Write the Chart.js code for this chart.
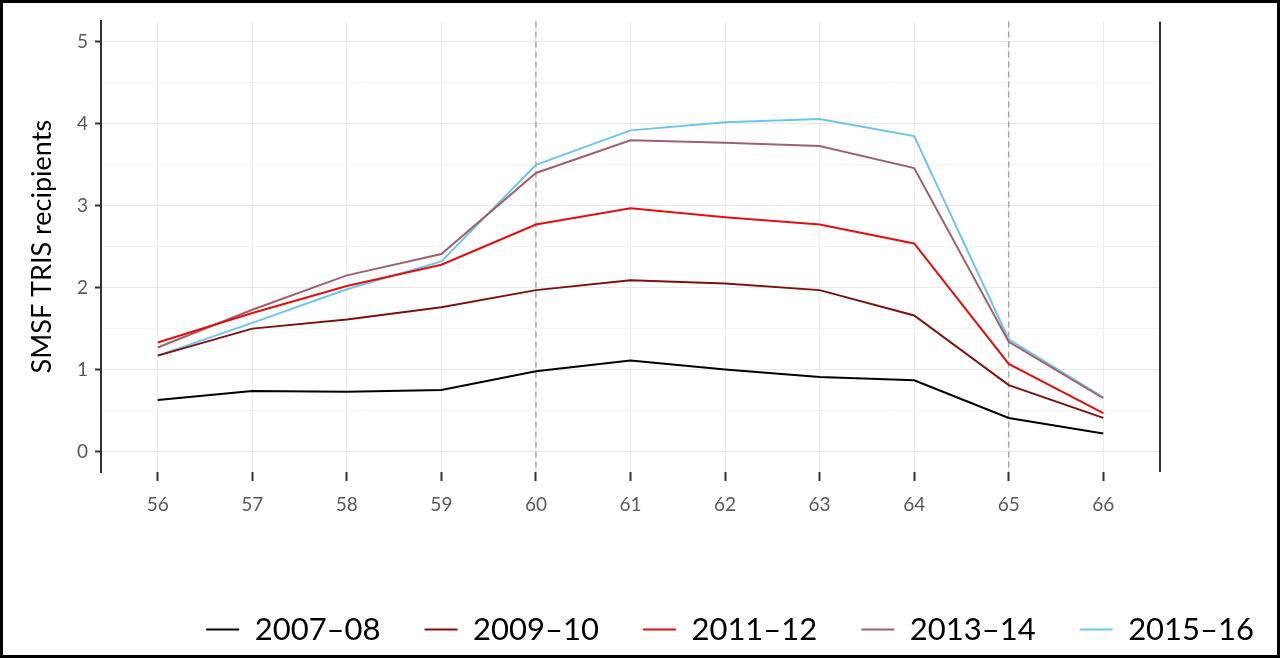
<!DOCTYPE html>
<html>
<head>
<meta charset="utf-8">
<script src="https://cdn.jsdelivr.net/npm/chart.js@4.4.1/dist/chart.umd.min.js"></script>
<style>
  html, body { margin: 0; padding: 0; background: #fff; }
  #wrap { width: 1280px; height: 658px; box-sizing: border-box; border: 3px solid #000; }
  #canvas { display: block; }
</style>
</head>
<body>
<div id="wrap"><canvas id="canvas" width="1274" height="652"></canvas></div>
<script>
// ages on the x axis
var ages = [56, 57, 58, 59, 60, 61, 62, 63, 64, 65, 66];
var yTicks = [0, 0.5, 1, 1.5, 2, 2.5, 3, 3.5, 4, 4.5, 5];
var markerAges = [60, 65];

var labels = ["2007–08", "2009–10", "2011–12", "2013–14", "2015–16"];
var colors = ["#000000", "#7d1111", "#e01010", "#a0616f", "#6ec5ec"];

var y0708 = [0.63, 0.74, 0.73, 0.75, 0.98, 1.11, 1.00, 0.91, 0.87, 0.41, 0.22];
var y0910 = [1.17, 1.50, 1.61, 1.76, 1.97, 2.09, 2.05, 1.97, 1.66, 0.81, 0.41];
var y1112 = [1.33, 1.69, 2.02, 2.28, 2.77, 2.97, 2.86, 2.77, 2.54, 1.07, 0.47];
var y1314 = [1.27, 1.73, 2.15, 2.41, 3.40, 3.80, 3.77, 3.73, 3.46, 1.34, 0.65];
var y1516 = [1.17, 1.57, 1.98, 2.32, 3.50, 3.92, 4.02, 4.06, 3.85, 1.37, 0.66];

var series = [y0708, y0910, y1112, y1314, y1516];

var FONT = "Lato, 'Open Sans', sans-serif";

var datasets = [];
for (var i = 0; i < series.length; i++) {
  datasets.push({
    label: labels[i],
    data: ages.map(function (a, j) { return { x: a, y: series[i][j] }; }),
    borderColor: colors[i],
    backgroundColor: colors[i],
    borderWidth: 2,
    pointRadius: 0,
    tension: 0
  });
}

// dashed markers at 60 and 65, plus right hand frame line
var extras = {
  id: "extras",
  beforeDatasetsDraw: function (chart) {
    var ctx = chart.ctx, a = chart.chartArea, xs = chart.scales.x;
    ctx.save();
    ctx.strokeStyle = "#a8a8a8";
    ctx.lineWidth = 1.5;
    ctx.setLineDash([6, 4]);
    markerAges.forEach(function (m) {
      var px = xs.getPixelForValue(m);
      ctx.beginPath();
      ctx.moveTo(px, a.top);
      ctx.lineTo(px, a.bottom);
      ctx.stroke();
    });
    ctx.restore();
  },
  afterDraw: function (chart) {
    var ctx = chart.ctx, a = chart.chartArea;
    ctx.save();
    ctx.strokeStyle = "#333";
    ctx.lineWidth = 2;
    ctx.beginPath();
    ctx.moveTo(a.right, a.top);
    ctx.lineTo(a.right, a.bottom);
    ctx.stroke();
    ctx.restore();
  }
};

function isWhole(v) { return Math.abs(v - Math.round(v)) < 1e-6; }

var ctx = document.getElementById("canvas").getContext("2d");
var chart = new Chart(ctx, {
  type: "line",
  data: { datasets: datasets },
  plugins: [extras],
  options: {
    responsive: false,
    animation: false,
    layout: { padding: { top: 14, right: -21, left: 0, bottom: 0 } },
    plugins: {
      tooltip: { enabled: false },
      legend: {
        position: "bottom",
        align: "end",
        labels: {
          usePointStyle: true,
          pointStyle: "line",
          pointStyleWidth: 33,
          boxHeight: 26,
          padding: 44,
          color: "#000",
          font: { family: FONT, size: 31 }
        }
      }
    },
    scales: {
      x: {
        type: "linear",
        min: 55.4,
        max: 66.6,
        afterBuildTicks: function (s) { s.ticks = ages.map(function (v) { return { value: v }; }); },
        afterFit: function (s) { s.height = 98; },
        border: { display: false },
        grid: { color: "#ececec", lineWidth: 1, tickColor: "#333", tickLength: 9, tickWidth: 2 },
        ticks: { padding: 12, color: "#595959", font: { family: FONT, size: 19 } }
      },
      y: {
        min: -0.25,
        max: 5.25,
        afterBuildTicks: function (s) { s.ticks = yTicks.map(function (v) { return { value: v }; }); },
        afterFit: function (s) { s.width = 98; },
        border: { display: true, color: "#333", width: 2 },
        grid: {
          color: function (c) { return c.tick && isWhole(c.tick.value) ? "#e9e9e9" : "#f4f4f4"; },
          tickColor: function (c) { return c.tick && isWhole(c.tick.value) ? "#333" : "rgba(0,0,0,0)"; },
          tickLength: 6,
          tickWidth: 2
        },
        ticks: {
          padding: 7,
          color: "#595959",
          font: { family: FONT, size: 19 },
          callback: function (v) { return isWhole(v) ? String(Math.round(v)) : ""; }
        },
        title: {
          display: true,
          text: "SMSF TRIS recipients",
          color: "#000",
          font: { family: FONT, size: 27 },
          padding: { top: 23, bottom: 0 }
        }
      },
      // empty right hand axis, only reserves the white margin right of the plot
      y2: {
        position: "right",
        afterFit: function (s) { s.width = 138; },
        border: { display: false },
        grid: { display: false },
        ticks: { display: false }
      }
    }
  }
});
</script>
</body>
</html>
